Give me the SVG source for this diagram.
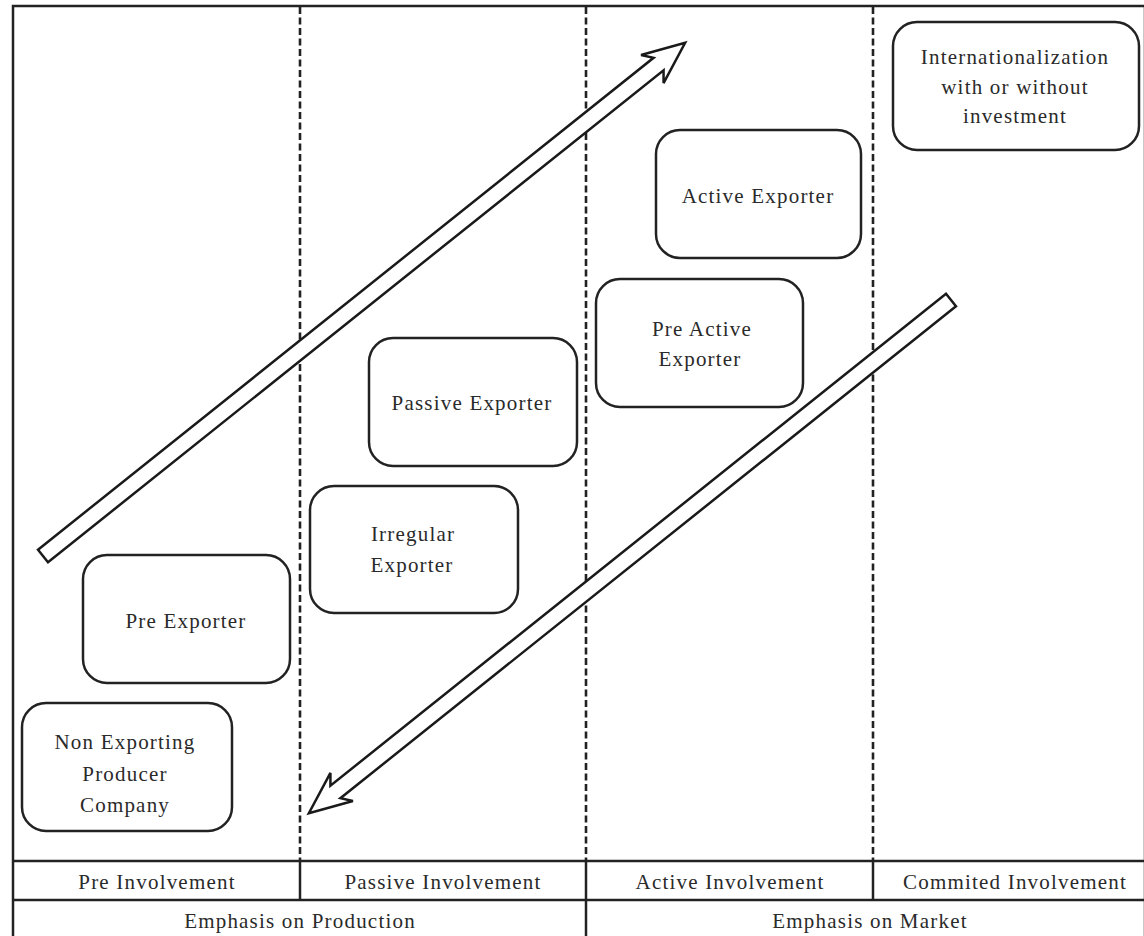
<svg xmlns="http://www.w3.org/2000/svg" width="1144" height="936" viewBox="0 0 1144 936">
<defs>
<style>
.frame{fill:none;stroke:#222;stroke-width:2.5}
.grid{stroke:#222;stroke-width:2.5}
.dash{stroke:#222;stroke-width:2.6;stroke-dasharray:7 3.5}
.box{fill:#fff;stroke:#222;stroke-width:2.5}
.arrow{fill:#fff;stroke:#1a1a1a;stroke-width:2.5;stroke-linejoin:miter}
text{font-family:"Liberation Serif","Times New Roman",serif;font-size:21px;fill:#2a2a2a;text-anchor:middle;letter-spacing:1.2px}
</style>
<polygon id="blockArrow" points="0,-8 788,-8 780,-18 822,0 780,18 788,8 0,8"/>
</defs>
<rect x="0" y="0" width="1144" height="936" fill="#fff"/>
<g id="grid">
<rect class="frame" x="13" y="6" width="1132" height="940"/>
<line class="dash" x1="300" y1="7" x2="300" y2="861"/>
<line class="dash" x1="586" y1="7" x2="586" y2="861"/>
<line class="dash" x1="873" y1="7" x2="873" y2="861"/>
<line class="grid" x1="13" y1="861" x2="1144" y2="861"/>
<line class="grid" x1="13" y1="900" x2="1144" y2="900"/>
<line class="grid" x1="300" y1="861" x2="300" y2="900"/>
<line class="grid" x1="586" y1="861" x2="586" y2="936"/>
<line class="grid" x1="873" y1="861" x2="873" y2="900"/>
</g>
<g id="connectors">
<use href="#blockArrow" class="arrow" transform="translate(43,556) rotate(-38.63)"/>
<use href="#blockArrow" class="arrow" transform="translate(951,300) rotate(141.37)"/>
</g>
<g id="node-internationalization">
<rect class="box" x="893" y="22" width="246" height="128" rx="24"/>
<text x="1015" y="64">Internationalization</text>
<text x="1015" y="94">with or without</text>
<text x="1015" y="123">investment</text>
</g>
<g id="node-active-exporter">
<rect class="box" x="656" y="130" width="205" height="128" rx="24"/>
<text x="758" y="203">Active Exporter</text>
</g>
<g id="node-pre-active-exporter">
<rect class="box" x="596" y="279" width="207" height="128" rx="24"/>
<text x="702" y="336">Pre Active</text>
<text x="700" y="366">Exporter</text>
</g>
<g id="node-passive-exporter">
<rect class="box" x="369" y="338" width="208" height="128" rx="24"/>
<text x="472" y="410">Passive Exporter</text>
</g>
<g id="node-irregular-exporter">
<rect class="box" x="310" y="486" width="208" height="127" rx="24"/>
<text x="413" y="541">Irregular</text>
<text x="412" y="572">Exporter</text>
</g>
<g id="node-pre-exporter">
<rect class="box" x="83" y="555" width="207" height="128" rx="24"/>
<text x="186" y="628">Pre Exporter</text>
</g>
<g id="node-non-exporting">
<rect class="box" x="22" y="703" width="210" height="128" rx="24"/>
<text x="125" y="749">Non Exporting</text>
<text x="125" y="781">Producer</text>
<text x="125" y="812">Company</text>
</g>
<g id="labels">
<text x="157" y="889">Pre Involvement</text>
<text x="443" y="889">Passive Involvement</text>
<text x="730" y="889">Active Involvement</text>
<text x="1015" y="889">Commited Involvement</text>
<text x="300" y="928">Emphasis on Production</text>
<text x="870" y="928">Emphasis on Market</text>
</g>
</svg>
